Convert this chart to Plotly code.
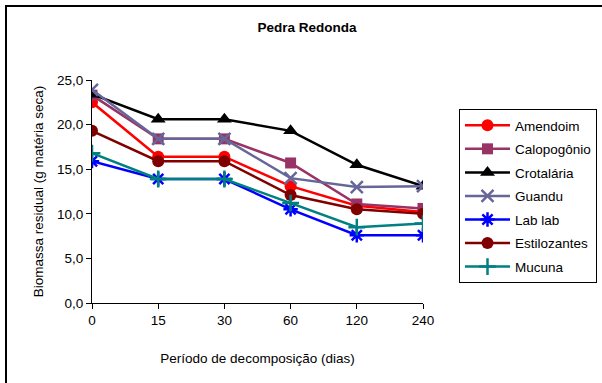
import plotly.graph_objects as go

days = ["0", "15", "30", "60", "120", "240"]
y_ticks = [0, 5, 10, 15, 20, 25]

amendoim = [22.5, 16.4, 16.4, 13.1, 10.9, 10.2]
calopogonio = [23.3, 18.4, 18.4, 15.7, 11.1, 10.6]
crotalaria = [23.4, 20.6, 20.6, 19.3, 15.5, 13.1]
guandu = [23.9, 18.4, 18.4, 14.0, 13.0, 13.1]
lablab = [15.9, 13.9, 13.9, 10.5, 7.6, 7.6]
estilozantes = [19.3, 15.9, 15.9, 12.1, 10.5, 10.0]
mucuna = [16.8, 13.9, 13.9, 11.2, 8.5, 8.9]

series = [
    ("Amendoim", amendoim, "#FF0000", "circle", 12),
    ("Calopogônio", calopogonio, "#993366", "square", 11),
    ("Crotalária", crotalaria, "#000000", "triangle-up", 13),
    ("Guandu", guandu, "#666699", "x-thin", 12),
    ("Lab lab", lablab, "#0000FF", "asterisk", 12),
    ("Estilozantes", estilozantes, "#800000", "circle", 12),
    ("Mucuna", mucuna, "#008080", "cross-thin", 12),
]

fig = go.Figure()
for i, (name, vals, color, sym, size) in enumerate(series):
    thin = sym in ("x-thin", "asterisk", "cross-thin")
    fig.add_trace(go.Scatter(
        x=days, y=vals, name=name, mode="lines+markers",
        legendgroup=f"g{i}",
        line=dict(color=color, width=2.5),
        marker=dict(symbol=sym, size=size, color=color,
                    line=dict(color=color, width=2.5 if thin else 0)),
    ))

font_family = "Arial, 'Liberation Sans', sans-serif"
fig.update_layout(
    width=602, height=383,
    margin=dict(l=92, r=179, t=80, b=80, autoexpand=False),
    paper_bgcolor="white", plot_bgcolor="white",
    separators=",.",
    font=dict(family=font_family, size=13.5, color="black"),
    title=dict(text="<b>Pedra Redonda</b>", x=307/602, xanchor="center",
               y=1 - 27/383, yanchor="middle",
               font=dict(size=13.5, family=font_family, color="black")),
    showlegend=True,
    legend=dict(xref="container", yref="container",
                x=459/602, xanchor="left", y=1 - 109/383, yanchor="top",
                bordercolor="black", borderwidth=1, bgcolor="white",
                tracegroupgap=3, traceorder="grouped",
                font=dict(size=13.5, family=font_family, color="black"),
                itemwidth=45),
    xaxis=dict(type="category", range=[0, 5], showgrid=False,
               showline=True, linecolor="black", linewidth=1,
               ticks="outside", ticklen=5, tickcolor="black",
               tickfont=dict(size=13.5, family=font_family, color="black"),
               title=dict(text="Período de decomposição (dias)", standoff=26,
                          font=dict(size=13.5, family=font_family, color="black")),
               zeroline=False),
    yaxis=dict(range=[0, 25], tickvals=y_ticks, tickformat=".1f",
               showgrid=False, showline=True, linecolor="black", linewidth=1,
               ticks="outside", ticklen=5, tickcolor="black",
               tickfont=dict(size=13.5, family=font_family, color="black"),
               title=dict(text="Biomassa residual (g matéria seca)", standoff=10,
                          font=dict(size=13.5, family=font_family, color="black")),
               zeroline=False),
    shapes=[dict(type="rect", xref="paper", yref="paper",
                 x0=(6 - 92) / 331, x1=(620 - 92) / 331,
                 y0=(303 - 400) / 223, y1=(303 - 6) / 223,
                 line=dict(color="black", width=2), layer="below")],
)

fig.write_html("out.html")
